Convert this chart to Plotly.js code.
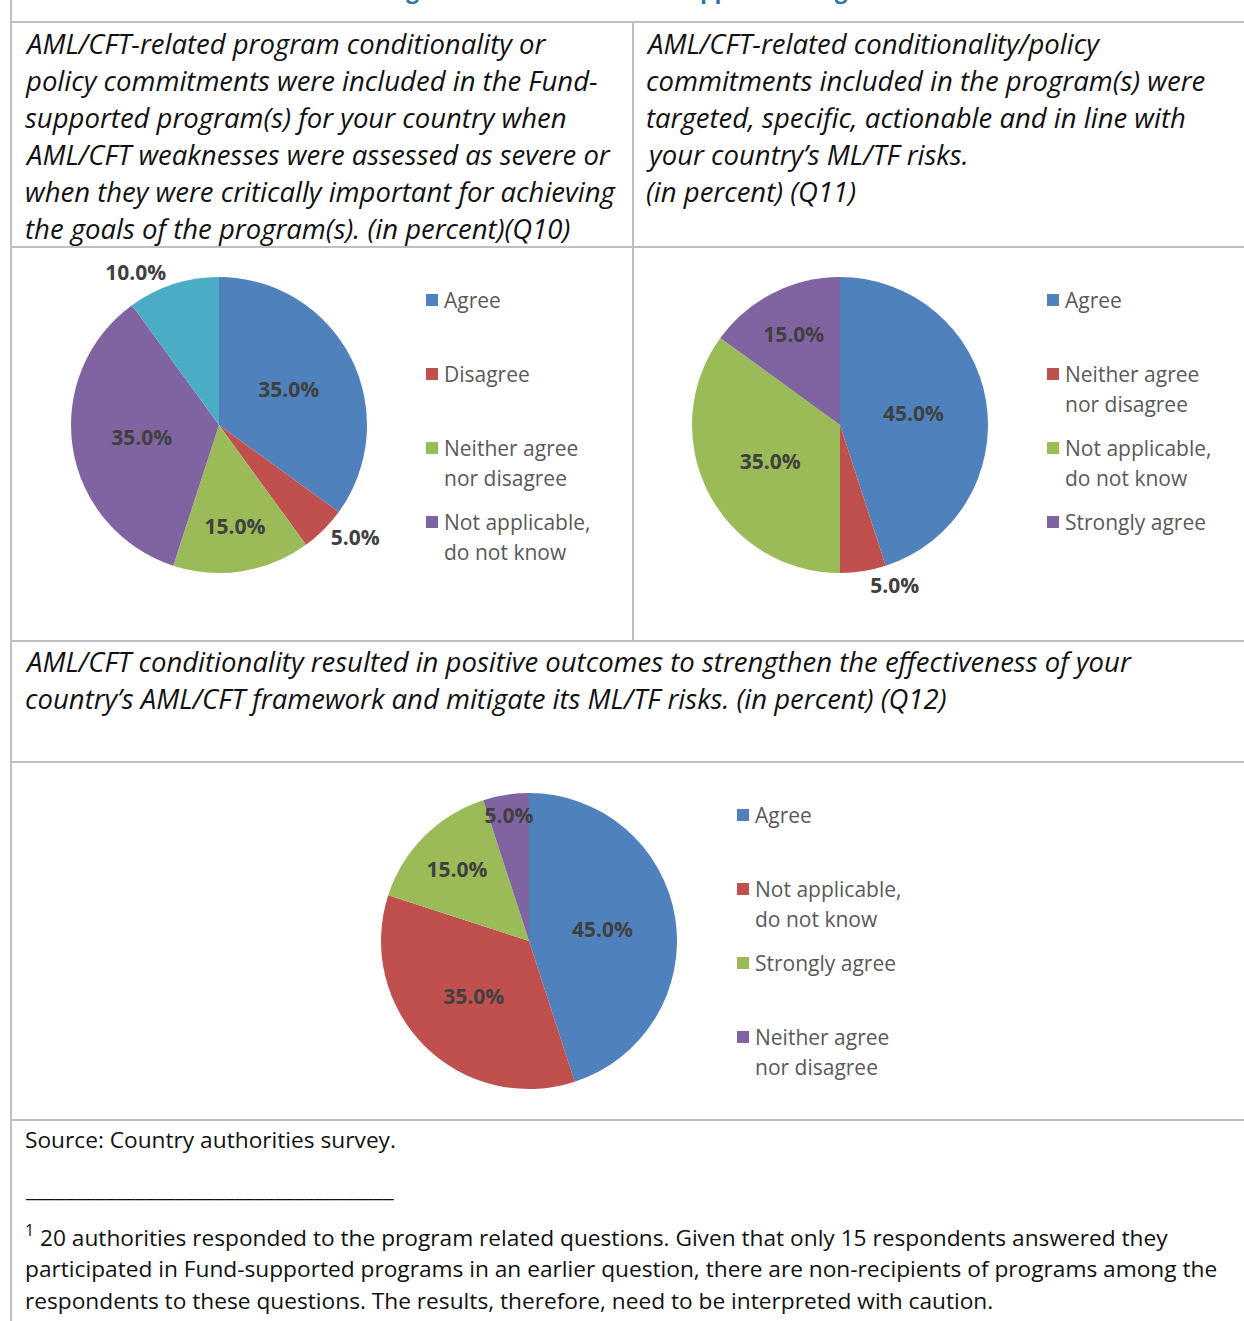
<!DOCTYPE html>
<html><head><meta charset="utf-8">
<script src="https://cdn.plot.ly/plotly-3.0.1.min.js"></script>
<style>html,body{margin:0;padding:0;background:#fff;overflow:hidden}</style>
</head><body><div id="chart" style="width:1244px;height:1321px"></div>
<script>
// ---------------- data ----------------
const q10Labels = ['Agree', 'Disagree', 'Neither agree nor disagree', 'Not applicable, do not know', 'Strongly agree'];
const q10Values = [35, 5, 15, 35, 10];
const q10Legend = ['Agree', 'Disagree', 'Neither agree nor disagree', 'Not applicable, do not know'];

const q11Labels = ['Agree', 'Neither agree nor disagree', 'Not applicable, do not know', 'Strongly agree'];
const q11Values = [45, 5, 35, 15];
const q11Legend = q11Labels;

const q12Labels = ['Agree', 'Not applicable, do not know', 'Strongly agree', 'Neither agree nor disagree'];
const q12Values = [45, 35, 15, 5];
const q12Legend = q12Labels;

const q10Title = [
  'AML/CFT-related program conditionality or',
  'policy commitments were included in the Fund-',
  'supported program(s) for your country when',
  'AML/CFT weaknesses were assessed as severe or',
  'when they were critically important for achieving',
  'the goals of the program(s). (in percent)(Q10)'
];
const q11Title = [
  'AML/CFT-related conditionality/policy',
  'commitments included in the program(s) were',
  'targeted, specific, actionable and in line with',
  'your country\u2019s ML/TF risks.',
  '(in percent) (Q11)'
];
const q12Title = [
  'AML/CFT conditionality resulted in positive outcomes to strengthen the effectiveness of your',
  'country\u2019s AML/CFT framework and mitigate its ML/TF risks. (in percent) (Q12)'
];
const sourceText = 'Source: Country authorities survey.';
const footnoteLines = [
  '<sup>1</sup> 20 authorities responded to the program related questions. Given that only 15 respondents answered they',
  'participated in Fund-supported programs in an earlier question, there are non-recipients of programs among the',
  'respondents to these questions. The results, therefore, need to be interpreted with caution.'
];
const pageTitle = 'AML/CFT Program Conditions in IMF-supported Programs';

// ---------------- styling ----------------
const W = 1244, H = 1321;
const X = p => p / W;
const Y = p => 1 - p / H;
const palette = ['#4F81BD', '#C0504D', '#9BBB59', '#8064A2', '#4BACC6'];
const FONT = 'Open Sans, Noto Sans, sans-serif';
const gridColor = '#BFBFBF';

function pieTrace(labels, values, cx, cy, r, positions) {
  return {
    type: 'pie', labels: labels, values: values, sort: false,
    direction: 'clockwise', rotation: 0,
    marker: {colors: palette.slice(0, labels.length), line: {color: '#ffffff', width: 0}},
    texttemplate: '%{percent:.1%}',
    textposition: positions,
    insidetextorientation: 'horizontal',
    textfont: {family: FONT, size: 21, color: '#404040', weight: 'bold'},
    outsidetextfont: {family: FONT, size: 21, color: '#404040', weight: 'bold'},
    hoverinfo: 'label+percent',
    showlegend: false,
    domain: {x: [X(cx - r), X(cx + r)], y: [Y(cy + r), Y(cy - r)]}
  };
}

const data = [
  pieTrace(q10Labels, q10Values, 219, 425, 148, ['inside', 'outside', 'inside', 'inside', 'outside']),
  pieTrace(q11Labels, q11Values, 840, 425, 148, ['inside', 'outside', 'inside', 'inside']),
  pieTrace(q12Labels, q12Values, 529, 941, 148, ['inside', 'inside', 'inside', 'inside'])
];

const shapes = [];
function hline(y, x0, x1) {
  shapes.push({type: 'line', xref: 'paper', yref: 'paper', x0: X(x0), x1: X(x1), y0: Y(y), y1: Y(y),
    line: {color: gridColor, width: 2}});
}
function vline(x, y0, y1) {
  shapes.push({type: 'line', xref: 'paper', yref: 'paper', x0: X(x), x1: X(x), y0: Y(y0), y1: Y(y1),
    line: {color: gridColor, width: 2}});
}
hline(22, 11, W);
hline(247, 11, W);
hline(641, 11, W);
hline(762, 11, W);
hline(1120, 11, W);
vline(11, 0, H);
vline(633, 22, 641);

const annotations = [];
function textLine(text, x, y, opts) {
  annotations.push(Object.assign({
    text: text, xref: 'paper', yref: 'paper', x: X(x), y: Y(y),
    xanchor: 'left', yanchor: 'middle', showarrow: false, borderpad: 0,
    font: {family: FONT, size: 27.5, color: '#111111', style: 'italic'}
  }, opts || {}));
}
const bodyFont = {family: FONT, size: 22.7, color: '#111111'};
q10Title.forEach((t, i) => textLine(t, 24, 43 + i * 37.2));
q11Title.forEach((t, i) => textLine(t, 645, 43 + i * 37.2));
q12Title.forEach((t, i) => textLine(t, 24, 661 + i * 38));
textLine(sourceText, 24, 1139, {font: bodyFont});
textLine('_____________________________________', 24, 1188, {font: bodyFont});
footnoteLines.forEach((t, i) => textLine(t, 24, 1236 + i * 32, {font: bodyFont}));
// page title: only its descenders fall inside the picture
annotations.push({text: '<b>' + pageTitle + '</b>', xref: 'paper', yref: 'paper', x: X(262), y: Y(6),
  xanchor: 'left', yanchor: 'bottom', showarrow: false, borderpad: 0,
  font: {family: FONT, size: 22.6, color: '#2E74B5'}});

function legend(items, x, y0) {
  items.forEach((lab, i) => {
    const y = y0 + i * 74;
    shapes.push({type: 'rect', xref: 'paper', yref: 'paper', x0: X(x - 18), x1: X(x - 6), y0: Y(y + 6), y1: Y(y - 6),
      fillcolor: palette[i], line: {width: 0}});
    const lines = lab.replace('Neither agree ', 'Neither agree\n').replace('Not applicable, ', 'Not applicable,\n').split('\n');
    lines.forEach((ln, j) => textLine(ln, x - 1, y + j * 29.5, {font: {family: FONT, size: 21, color: '#595959'}}));
  });
}
legend(q10Legend, 444, 300);
legend(q11Legend, 1065, 300);
legend(q12Legend, 755, 815);

const layout = {
  width: W, height: H,
  margin: {l: 0, r: 0, t: 0, b: 0},
  paper_bgcolor: '#ffffff',
  font: {family: FONT},
  uniformtext: {mode: 'show', minsize: 21},
  shapes: shapes,
  annotations: annotations
};
Plotly.newPlot('chart', data, layout, {displayModeBar: false, staticPlot: true});
</script>
</body></html>
